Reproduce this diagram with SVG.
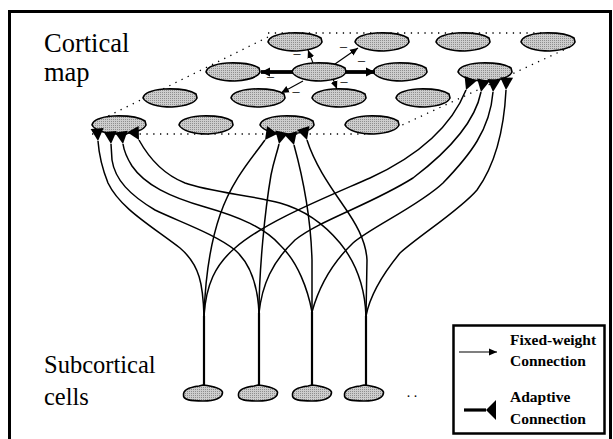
<svg xmlns="http://www.w3.org/2000/svg" width="613" height="439" viewBox="0 0 613 439">
<style>
  .node { fill: url(#stipple); stroke: #000; stroke-width: 1.6; stroke-linejoin: round; }
  .plane { fill: none; stroke: #000; stroke-width: 1.3; stroke-dasharray: 1.3 5.5; }
  .adapt { fill: none; stroke: #000; stroke-width: 1.5; marker-end: url(#adaptHead); }
  .stem { fill: none; stroke: #000; stroke-width: 2.2; }
  .fixed { fill: none; stroke: #000; stroke-width: 1.1; marker-end: url(#fixedHead); }
  .fixedBold { fill: none; stroke: #000; stroke-width: 3.8; marker-end: url(#fixedBoldHead); }
  .big { font-family: "Liberation Serif", "Times New Roman", serif; font-size: 26.5px; fill: #000; }
  .big2 { font-family: "Liberation Serif", "Times New Roman", serif; font-size: 24.5px; fill: #000; }
  .minus { font-family: "Liberation Serif", "Times New Roman", serif; font-size: 14px; fill: #000; text-anchor: middle; }
  .leg { font-family: "Liberation Serif", "Times New Roman", serif; font-size: 15.5px; font-weight: bold; fill: #000; }
</style>
<defs>
  <pattern id="stipple" width="2" height="2" patternUnits="userSpaceOnUse">
    <rect width="2" height="2" fill="#cdcdcd"/>
    <rect width="1" height="1" fill="#8e8e8e"/>
  </pattern>
  <path id="cshape" d="M-27,0 C-26,-5 -18,-8 -6,-9 C6,-9.5 20,-8 26,-4 L27,0 C25,5 16,8 2,9 C-12,9 -24,6 -27,0 Z"/>
  <path id="sshape" d="M-19.5,2 C-20,-4 -12,-6 -4,-7 L0,-8 C8,-7 18,-5 19.5,-1 C20,5 12,8 0,8 C-12,8 -20,7 -19.5,2 Z"/>
  <marker id="adaptHead" markerUnits="userSpaceOnUse" viewBox="0 -7 14 14" refX="0" refY="0" markerWidth="14" markerHeight="14" orient="auto">
    <path d="M0,0 L12.5,-6.5 L12.5,6.5 Z" fill="#000"/>
  </marker>
  <marker id="adaptLeg" markerUnits="userSpaceOnUse" viewBox="0 -11 12 22" refX="0" refY="0" markerWidth="12" markerHeight="22" orient="auto">
    <path d="M0,0 L10,-10 L10,10 Z" fill="#000"/>
  </marker>
  <marker id="fixedHead" markerUnits="userSpaceOnUse" viewBox="0 -4 9 8" refX="8" refY="0" markerWidth="9" markerHeight="8" orient="auto">
    <path d="M0,-3.5 L8,0 L0,3.5 Z" fill="#000"/>
  </marker>
  <marker id="fixedBoldHead" markerUnits="userSpaceOnUse" viewBox="0 -5 10 10" refX="9" refY="0" markerWidth="10" markerHeight="10" orient="auto">
    <path d="M0,-4.5 L9,0 L0,4.5 Z" fill="#000"/>
  </marker>
</defs>

<g id="frame">
  <path d="M9.5,445 V11.5 H610.5 V445" fill="none" stroke="#000" stroke-width="3"/>
</g>

<g id="plane">
  <path class="plane" d="M268,33 H548"/>
  <path class="plane" d="M268,37 L92,124"/>
  <path class="plane" d="M92,134 H367"/>
  <path class="plane" d="M570,47 L398,127"/>
</g>

<g id="cortical-nodes">
  <g id="c-r1-1"><use href="#cshape" class="node" x="295" y="42"/></g>
  <g id="c-r1-2"><use href="#cshape" class="node" x="382" y="42"/></g>
  <g id="c-r1-3"><use href="#cshape" class="node" x="463" y="42"/></g>
  <g id="c-r1-4"><use href="#cshape" class="node" x="548" y="42"/></g>
  <g id="c-r2-1"><use href="#cshape" class="node" x="233" y="72"/></g>
  <g id="c-r2-2"><use href="#cshape" class="node" x="319" y="72"/></g>
  <g id="c-r2-3"><use href="#cshape" class="node" x="400" y="72"/></g>
  <g id="c-r2-4"><use href="#cshape" class="node" x="485" y="72"/></g>
  <g id="c-r3-1"><use href="#cshape" class="node" x="170" y="98"/></g>
  <g id="c-r3-2"><use href="#cshape" class="node" x="258" y="98"/></g>
  <g id="c-r3-3"><use href="#cshape" class="node" x="339" y="98"/></g>
  <g id="c-r3-4"><use href="#cshape" class="node" x="423" y="98"/></g>
  <g id="c-r4-1"><use href="#cshape" class="node" x="119" y="125"/></g>
  <g id="c-r4-2"><use href="#cshape" class="node" x="206" y="125"/></g>
  <g id="c-r4-3"><use href="#cshape" class="node" x="287" y="125"/></g>
  <g id="c-r4-4"><use href="#cshape" class="node" x="372" y="125"/></g>
</g>

<g id="subcortical-nodes">
  <g id="s1"><use href="#sshape" class="node" x="203" y="393"/></g>
  <g id="s2"><use href="#sshape" class="node" x="258" y="393"/></g>
  <g id="s3"><use href="#sshape" class="node" x="312" y="393"/></g>
  <g id="s4"><use href="#sshape" class="node" x="364" y="393"/></g>
  <text class="minus" x="412" y="397">. .</text>
</g>

<g id="connectors">
  <!-- stems -->
  <path class="stem" d="M204,386 V316" stroke-width="2.8"/>
  <path class="stem" d="M259,386 V313"/>
  <path class="stem" d="M312,386 V312" stroke-width="1.6"/>
  <path class="stem" d="M366,386 V316" stroke-width="1.6"/>
  <!-- to left cortical node -->
  <path class="adapt" d="M204,316 C203,285 200,265 180,248 C150,225 120,208 108,183 C102,168 99,155 98,141" stroke-width="1.8"/>
  <path class="adapt" d="M259,313 C258,290 252,265 235,250 C215,234 180,222 155,210 C130,195 115,180 112,160 L111,144"/>
  <path class="adapt" d="M312,312 C308,290 298,262 280,245 C265,228 240,217 205,207 C170,197 145,185 132,166 C127,158 124,151 123,144"/>
  <path class="adapt" d="M366,316 C365,290 358,265 340,243 C325,225 305,210 280,203 C250,195 210,192 185,183 C165,175 150,160 139,140" stroke-width="1.8"/>
  <!-- to middle cortical node -->
  <path class="adapt" d="M204,316 C205,285 208,250 220,215 C232,180 252,158 265,140"/>
  <path class="adapt" d="M259,313 C259,270 265,210 271,175 C274,160 277,153 279,144"/>
  <path class="adapt" d="M312,312 L312,260 C311,225 305,185 294,145" stroke-width="1.8"/>
  <path class="adapt" d="M366,316 L367,260 C366,240 355,222 343,205 C330,186 315,165 307,140" stroke-width="1.8"/>
  <!-- to right cortical node -->
  <path class="adapt" d="M204,316 C206,285 215,265 235,248 C265,222 320,200 370,178 C420,155 452,125 466,90" stroke-width="1.7"/>
  <path class="adapt" d="M259,313 C262,285 272,262 295,240 C320,220 370,205 413,178 C450,150 475,122 481,92"/>
  <path class="adapt" d="M312,312 C318,290 330,265 353,243 C370,228 420,205 443,183 C470,155 490,130 493,92" stroke-width="1.8"/>
  <path class="adapt" d="M366,316 C370,295 382,275 400,253 C420,235 460,210 477,190 C495,165 504,130 506,90" stroke-width="1.8"/>
  <!-- lateral fixed-weight connections -->
  <path class="fixedBold" d="M293,72 L261,72"/>
  <path class="fixedBold" d="M345,72 L375,72"/>
  <path class="fixed" d="M313,63 L308,50"/>
  <path class="fixed" d="M335,64 L358,48"/>
  <path class="fixed" d="M303,81 L281,93"/>
  <path class="fixed" d="M333,79 L337,89"/>
  <text class="minus" x="297" y="57.5">–</text>
  <text class="minus" x="343.5" y="50.5">–</text>
  <text class="minus" x="361.5" y="64.5">–</text>
  <text class="minus" x="270.5" y="80.5">–</text>
  <text class="minus" x="296" y="95.5">–</text>
  <text class="minus" x="344" y="85.5">–</text>
</g>

<g id="labels">
  <text class="big" x="44" y="52">Cortical</text>
  <text class="big" x="44" y="81">map</text>
  <text class="big2" x="44" y="373">Subcortical</text>
  <text class="big2" x="44" y="405">cells</text>
</g>

<g id="legend">
  <rect x="453.5" y="325.5" width="151" height="108" fill="#fff" stroke="#000" stroke-width="2.5"/>
  <path class="fixed" d="M459,352 L497,352" stroke-width="1.5"/>
  <text class="leg" x="510" y="345">Fixed-weight</text>
  <text class="leg" x="510" y="366">Connection</text>
  <path d="M464,410 L486,410" fill="none" stroke="#000" stroke-width="3.2" marker-end="url(#adaptLeg)"/>
  <text class="leg" x="510" y="402">Adaptive</text>
  <text class="leg" x="510" y="424">Connection</text>
</g>
</svg>
